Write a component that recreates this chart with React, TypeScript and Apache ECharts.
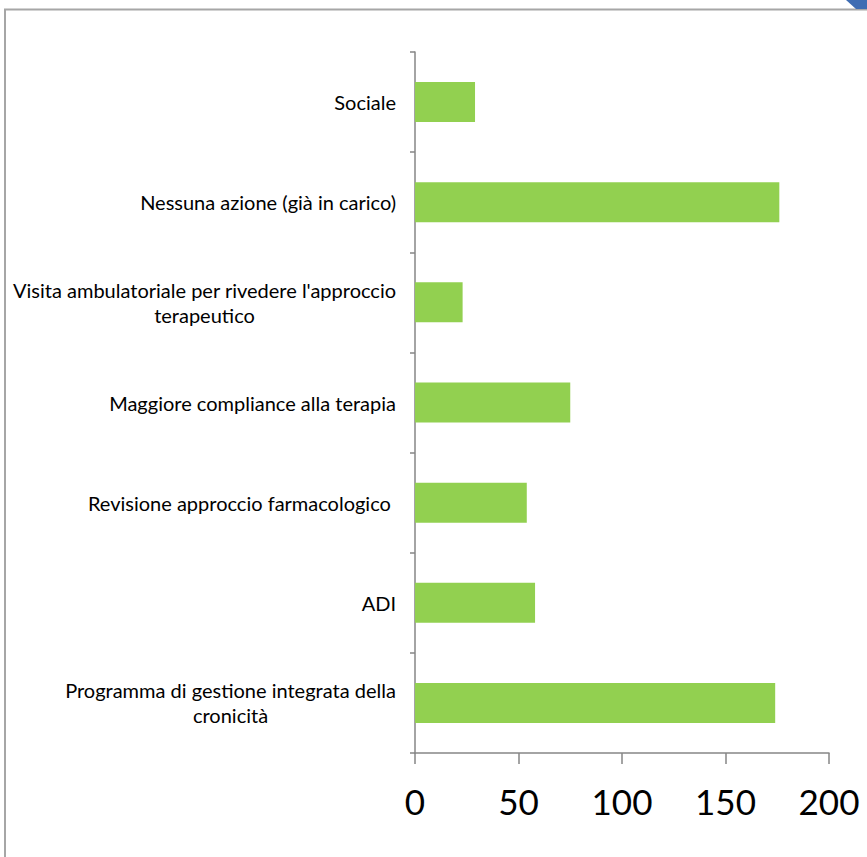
import React, { useEffect, useRef } from "react";
import * as echarts from "echarts";

const categories: string[] = [
  "Sociale",
  "Nessuna azione (già in carico)",
  "Visita ambulatoriale per rivedere l'approccio\nterapeutico",
  "Maggiore compliance alla terapia",
  "Revisione approccio farmacologico ",
  "ADI",
  "Programma di gestione integrata della\ncronicità",
];
const values: number[] = [29, 176, 23, 75, 54, 58, 174];
const xTicks: number[] = [0, 50, 100, 150, 200];

const LABEL_FONT = "Lato";
const LABEL_SIZE = 20;

function measure(text: string): number {
  const c = document.createElement("canvas");
  const ctx = c.getContext("2d");
  if (!ctx) return text.length * 8;
  ctx.font = `${LABEL_SIZE}px ${LABEL_FONT}`;
  return ctx.measureText(text).width;
}

export default function App() {
  const ref = useRef<HTMLDivElement>(null);
  useEffect(() => {
    document.body.style.margin = "0";
    if (!ref.current) return;
    const chart = echarts.init(ref.current, undefined, { renderer: "svg" });
    chart.setOption({
      animation: false,
      backgroundColor: "#ffffff",
      grid: { left: 415, right: 38, top: 52, bottom: 104, containLabel: false },
      xAxis: {
        type: "value",
        min: xTicks[0],
        max: xTicks[xTicks.length - 1],
        interval: 50,
        splitLine: { show: false },
        axisLine: { show: true, lineStyle: { color: "#868686", width: 1.5 } },
        axisTick: { show: true, length: 11, lineStyle: { color: "#868686", width: 1.5 } },
        axisLabel: {
          fontFamily: "Lato",
          fontSize: 35,
          color: "#000000",
          margin: 30,
        },
      },
      yAxis: {
        type: "category",
        inverse: true,
        data: categories,
        axisLine: { show: true, lineStyle: { color: "#868686", width: 1.5 } },
        axisTick: { show: true, length: 5, lineStyle: { color: "#868686", width: 1.5 } },
        axisLabel: {
          fontFamily: LABEL_FONT,
          fontSize: LABEL_SIZE,
          color: "#000000",
          margin: 19,
          lineHeight: 25,
          formatter: (v: string) => {
            if (v.indexOf("\n") < 0) return v;
            const lines = v.split("\n");
            const w = Math.max(...lines.map(measure));
            return lines.map((l) => `{c${Math.round(w)}|${l}}`).join("\n");
          },
          rich: (() => {
            const r: Record<string, any> = {};
            categories.forEach((c) => {
              if (c.indexOf("\n") >= 0) {
                const w = Math.max(...c.split("\n").map(measure));
                r[`c${Math.round(w)}`] = {
                  width: Math.round(w),
                  align: "center",
                  fontFamily: LABEL_FONT,
                  fontSize: LABEL_SIZE,
                  lineHeight: 25,
                  color: "#000000",
                };
              }
            });
            return r;
          })(),
        },
      },
      series: [
        {
          type: "bar",
          data: values,
          barWidth: 40,
          itemStyle: { color: "#92D050" },
        },
      ],
      graphic: [
        {
          type: "polyline",
          shape: { points: [[5, 900], [5, 9.5], [900, 9.5]] },
          style: { stroke: "#A6A6A6", lineWidth: 2, fill: null },
          silent: true,
        },
        {
          type: "polygon",
          shape: { points: [[846, 0], [867, 0], [867, 9], [856, 9]] },
          style: { fill: "#3F6DB3" },
          silent: true,
        },
      ],
    });
    return () => chart.dispose();
  }, []);
  return (
    <div
      ref={ref}
      style={{ position: "absolute", left: 0, top: 0, width: 867, height: 857 }}
    />
  );
}
